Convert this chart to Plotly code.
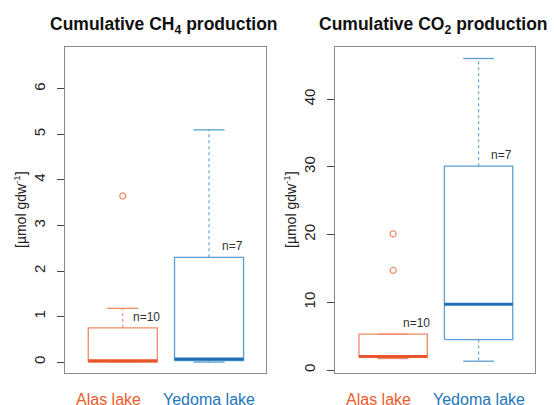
import plotly.graph_objects as go

# ---- data ----
groups = ["Alas lake", "Yedoma lake"]
n_labels = ["n=10", "n=7"]

ch4_lower = [0.0, 0.0]
ch4_q1 = [0.0, 0.03]
ch4_median = [0.03, 0.07]
ch4_q3 = [0.75, 2.3]
ch4_upper = [1.18, 5.1]
ch4_outliers = [[3.65], []]

co2_lower = [1.7, 1.3]
co2_q1 = [1.87, 4.5]
co2_median = [2.0, 9.7]
co2_q3 = [5.3, 30.1]
co2_upper = [5.3, 46.0]
co2_outliers = [[14.7, 20.1], []]

ch4_ticks = [0, 1, 2, 3, 4, 5, 6]
co2_ticks = [0, 10, 20, 30, 40]

# ---- styles ----
line_cols = ["#F08A6A", "#5A9FD0"]
med_cols = ["#E8552A", "#1F6EB4"]
text_cols = ["#EE5A2C", "#2277BB"]
FONT = "Arial, Liberation Sans, sans-serif"
positions = [1, 2]
half_w = 0.4
cap_w = 0.18

fig = go.Figure()


def add_panel(xa, ya, lower, q1, med, q3, upper, outl):
    for i, p in enumerate(positions):
        lc = line_cols[i]
        # box
        fig.add_trace(go.Scatter(
            x=[p - half_w, p + half_w, p + half_w, p - half_w, p - half_w],
            y=[q1[i], q1[i], q3[i], q3[i], q1[i]],
            mode="lines", line=dict(color=lc, width=1.3),
            xaxis=xa, yaxis=ya, showlegend=False, hoverinfo="skip"))
        # whiskers (dashed)
        for a, b in [(q3[i], upper[i]), (q1[i], lower[i])]:
            if a != b:
                fig.add_trace(go.Scatter(
                    x=[p, p], y=[a, b], mode="lines",
                    line=dict(color=lc, width=1.1, dash="3px,3px"),
                    xaxis=xa, yaxis=ya, showlegend=False, hoverinfo="skip"))
        # caps
        for v in [upper[i], lower[i]]:
            fig.add_trace(go.Scatter(
                x=[p - cap_w, p + cap_w], y=[v, v], mode="lines",
                line=dict(color=lc, width=1.3),
                xaxis=xa, yaxis=ya, showlegend=False, hoverinfo="skip"))
        # median
        fig.add_trace(go.Scatter(
            x=[p - half_w, p + half_w], y=[med[i], med[i]], mode="lines",
            line=dict(color=med_cols[i], width=3),
            xaxis=xa, yaxis=ya, showlegend=False, hoverinfo="skip"))
        # outliers
        if outl[i]:
            fig.add_trace(go.Scatter(
                x=[p] * len(outl[i]), y=outl[i], mode="markers",
                marker=dict(symbol="circle-open", size=6, color=lc,
                            line=dict(width=1.2)),
                xaxis=xa, yaxis=ya, showlegend=False, hoverinfo="skip"))
        # n labels
        fig.add_annotation(x=p + 0.27, y=q3[i], xref=xa, yref=ya,
                           text=n_labels[i], showarrow=False, yshift=11,
                           xanchor="center", yanchor="middle",
                           font=dict(family=FONT, size=12, color="#333333"))
        # group labels
        fig.add_annotation(x=p - (0.17 if i == 0 else 0.0), y=6 / 405,
                           xref=xa, yref="paper", text=groups[i],
                           showarrow=False, xanchor="center", yanchor="middle",
                           font=dict(family=FONT, size=16, color=text_cols[i]))


add_panel("x", "y", ch4_lower, ch4_q1, ch4_median, ch4_q3, ch4_upper, ch4_outliers)
add_panel("x2", "y2", co2_lower, co2_q1, co2_median, co2_q3, co2_upper, co2_outliers)

axis_common = dict(showline=True, mirror=True, linecolor="#8a8a8a", linewidth=1.3,
                   showgrid=False, zeroline=False)

fig.update_layout(
    width=554, height=405,
    margin=dict(l=0, r=0, t=0, b=0, autoexpand=False),
    paper_bgcolor="white", plot_bgcolor="white",
    xaxis=dict(domain=[0.1173, 0.4801], range=[0.33, 2.66],
               showticklabels=False, ticks="", **axis_common),
    yaxis=dict(domain=[0.079, 0.884], range=[-0.24, 6.92],
               tickvals=ch4_ticks, ticktext=[str(t) for t in ch4_ticks],
               ticks="outside", ticklen=7, tickcolor="#444", tickangle=-90,
               ticklabelstandoff=6,
               tickfont=dict(family=FONT, size=15, color="#222"), **axis_common),
    xaxis2=dict(domain=[0.6047, 0.9657], range=[0.32, 2.66], anchor="y2",
                showticklabels=False, ticks="", **axis_common),
    yaxis2=dict(domain=[0.079, 0.884], range=[-0.44, 47.7], anchor="x2",
                tickvals=co2_ticks, ticktext=[str(t) for t in co2_ticks],
                ticks="outside", ticklen=7, tickcolor="#444", tickangle=-90,
                ticklabelstandoff=6,
                tickfont=dict(family=FONT, size=15, color="#222"), **axis_common),
)

# titles
fig.add_annotation(x=164 / 554, y=1 - 25 / 405, xref="paper", yref="paper",
                   text="<b>Cumulative CH<sub>4</sub> production</b>", showarrow=False,
                   xanchor="center", yanchor="middle",
                   font=dict(family=FONT, size=17.5, color="#111"))
fig.add_annotation(x=433 / 554, y=1 - 25 / 405, xref="paper", yref="paper",
                   text="<b>Cumulative CO<sub>2</sub> production</b>", showarrow=False,
                   xanchor="center", yanchor="middle",
                   font=dict(family=FONT, size=17.5, color="#111"))
# y titles
for xp in [20 / 554, 290 / 554]:
    fig.add_annotation(x=xp, y=1 - 210 / 405, xref="paper", yref="paper",
                       text="[µmol gdw<sup>-1</sup>]", showarrow=False, textangle=-90,
                       xanchor="center", yanchor="middle",
                       font=dict(family=FONT, size=14, color="#222"))

fig.write_html("out.html", config={"displayModeBar": False},
               post_script="document.body.style.margin='0';document.body.style.overflow='hidden';")
